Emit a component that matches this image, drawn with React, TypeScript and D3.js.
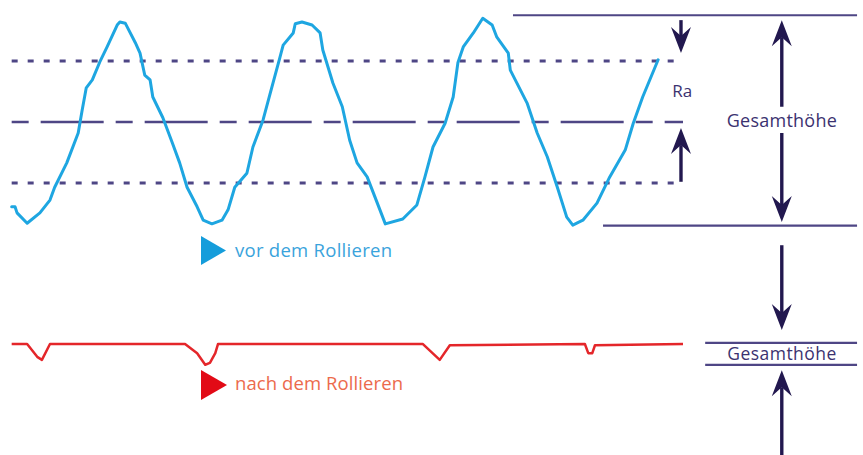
import * as d3 from 'd3';

// profile before rolling: [position, height in Ra units]
const rawX = [0.1, 0.6, 0.9, 2.4, 4.3, 5.8, 6.5, 8.3, 10.0, 10.6, 11.2, 12.1, 13.2, 14.3, 15.8, 16.2, 17.0, 18.5, 19.2, 19.9, 20.7, 21.1, 22.6, 24.0, 25.1, 26.2, 27.7, 28.6, 29.9, 31.4, 32.3, 33.3, 35.1, 36.0, 37.5, 38.5, 40.0, 40.5, 42.0, 42.3, 43.3, 44.8, 46.0, 46.4, 47.9, 49.3, 50.4, 51.5, 53.0, 54.9, 55.7, 58.3, 60.4, 61.6, 62.8, 64.6, 65.8, 66.5, 67.3, 68.8, 70.2, 71.6, 72.3, 74.0, 74.3, 76.8, 78.3, 79.8, 81.3, 82.7, 83.6, 85.1, 87.2, 89.1, 91.4, 92.6, 94.0, 96.3];
const rawY = [-1.39, -1.39, -1.49, -1.66, -1.49, -1.28, -1.07, -0.67, -0.18, 0.2, 0.56, 0.69, 0.98, 1.23, 1.59, 1.64, 1.62, 1.3, 1.13, 0.77, 0.69, 0.41, 0.07, -0.34, -0.67, -1.07, -1.39, -1.61, -1.67, -1.61, -1.44, -1.07, -0.84, -0.41, 0.03, 0.44, 1.05, 1.26, 1.46, 1.61, 1.64, 1.59, 1.46, 1.18, 0.64, 0.25, -0.3, -0.67, -0.9, -1.44, -1.67, -1.59, -1.36, -0.9, -0.41, -0.02, 0.41, 0.97, 1.23, 1.46, 1.7, 1.59, 1.39, 1.13, 0.85, 0.31, -0.18, -0.57, -1.07, -1.56, -1.69, -1.61, -1.33, -0.9, -0.46, -0.02, 0.41, 1.02];

// profile after rolling
const rolledX = [0.1, 2.4, 3.9, 4.6, 5.8, 25.9, 27.7, 28.9, 29.6, 30.4, 30.8, 61.3, 63.8, 65.3, 85.4, 85.9, 86.5, 86.9, 100];
const rolledY = [-3.64, -3.64, -3.85, -3.9, -3.64, -3.64, -3.79, -3.98, -3.95, -3.79, -3.64, -3.64, -3.9, -3.66, -3.64, -3.79, -3.79, -3.66, -3.64];

// reference levels
const raLevels = [1, -1];
const meanLevel = 0;
const totalTop = 1.75;
const totalBottom = -1.7;
const rolledTop = -3.62;
const rolledBottom = -3.98;

const labelBefore = 'vor dem Rollieren';
const labelAfter = 'nach dem Rollieren';
const labelRa = 'Ra';
const labelTotal = 'Gesamthöhe';

const W = 863;
const H = 455;
const NAVY = '#4e4685';
const DARK = '#22184f';
const FONT = '"Open Sans", "Noto Sans", sans-serif';

function Arrow({ x, y1, y2 }: { x: number; y1: number; y2: number }) {
  // y1 = tail, y2 = tip
  const dir = y2 > y1 ? 1 : -1;
  const hl = 24;
  const hw = 10;
  const notch = 7;
  const base = y2 - dir * hl;
  const head = `M${x},${y2} L${x - hw},${base - dir * 2} L${x},${base + dir * notch} L${x + hw},${base - dir * 2} Z`;
  return (
    <g>
      <line x1={x} x2={x} y1={y1} y2={base + dir * notch} stroke={DARK} strokeWidth={3.4} />
      <path d={head} fill={DARK} />
    </g>
  );
}

export default function App() {
  const x = d3.scaleLinear().domain([0, 100]).range([11, 683]);
  const y = d3.scaleLinear().domain([0, 1]).range([122, 61]);

  const line = d3.line<[number, number]>().x(d => x(d[0])).y(d => y(d[1]));
  const rawPts = rawX.map((v, i) => [v, rawY[i]] as [number, number]);
  const rolledPts = rolledX.map((v, i) => [v, rolledY[i]] as [number, number]);

  const ax1 = x(99.7);
  const ax2 = x(114.7);

  return (
    <div style={{ position: 'absolute', left: 0, top: 0, width: W, height: H, background: '#fff' }}>
      <svg width={W} height={H} style={{ display: 'block' }}>
        {/* Ra lines */}
        {raLevels.map(l => (
          <line key={l} x1={x(0.1)} x2={x(100)} y1={y(l)} y2={y(l)} stroke={NAVY} strokeWidth={3} strokeDasharray="6 10" />
        ))}
        <line x1={x(0.1)} x2={x(100)} y1={y(meanLevel)} y2={y(meanLevel)} stroke={NAVY} strokeWidth={2.4} strokeDasharray="17 12 63 12" />

        {/* total height lines */}
        <line x1={x(74.7)} x2={x(125.9)} y1={y(totalTop)} y2={y(totalTop)} stroke={NAVY} strokeWidth={2.2} />
        <line x1={x(88.1)} x2={x(125.9)} y1={y(totalBottom)} y2={y(totalBottom)} stroke={NAVY} strokeWidth={2.2} />
        <line x1={x(103.3)} x2={x(125.9)} y1={y(rolledTop)} y2={y(rolledTop)} stroke={NAVY} strokeWidth={2.2} />
        <line x1={x(103.3)} x2={x(125.9)} y1={y(rolledBottom)} y2={y(rolledBottom)} stroke={NAVY} strokeWidth={2.2} />

        {/* profiles */}
        <path d={line(rawPts) || ''} fill="none" stroke="#1ea6e1" strokeWidth={3} strokeLinejoin="round" strokeLinecap="round" />
        <path d={line(rolledPts) || ''} fill="none" stroke="#e4262a" strokeWidth={2.5} strokeLinejoin="round" />

        {/* arrows */}
        <Arrow x={ax1} y1={y(1.67)} y2={y(1.13)} />
        <Arrow x={ax1} y1={y(-0.98)} y2={y(-0.1)} />
        <Arrow x={ax2} y1={y(0.25)} y2={y(1.67)} />
        <Arrow x={ax2} y1={y(-0.18)} y2={y(-1.64)} />
        <Arrow x={ax2} y1={y(-2.02)} y2={y(-3.41)} />
        <Arrow x={ax2} y1={H} y2={y(-4.07)} />

        {/* labels */}
        <text x={x(99.9)} y={97} textAnchor="middle" fontFamily={FONT} fontSize={17} fill="#3b3270" textLength={20} lengthAdjust="spacing">{labelRa}</text>
        <text x={ax2} y={127} textAnchor="middle" fontFamily={FONT} fontSize={18} fill="#3b3270" textLength={110} lengthAdjust="spacing">{labelTotal}</text>
        <text x={ax2} y={360} textAnchor="middle" fontFamily={FONT} fontSize={17.5} fill="#3b3270" textLength={109} lengthAdjust="spacing">{labelTotal}</text>

        <path d="M201,236 L226,250.5 L201,265 Z" fill="#159ddb" />
        <text x={235} y={257} fontFamily={FONT} fontSize={18.5} fill="#3aa3dc" textLength={157} lengthAdjust="spacing">{labelBefore}</text>
        <path d="M201,370 L227,385 L201,400 Z" fill="#e20a16" />
        <text x={235} y={390} fontFamily={FONT} fontSize={18.5} fill="#ec6a4c" textLength={168} lengthAdjust="spacing">{labelAfter}</text>
      </svg>
    </div>
  );
}
